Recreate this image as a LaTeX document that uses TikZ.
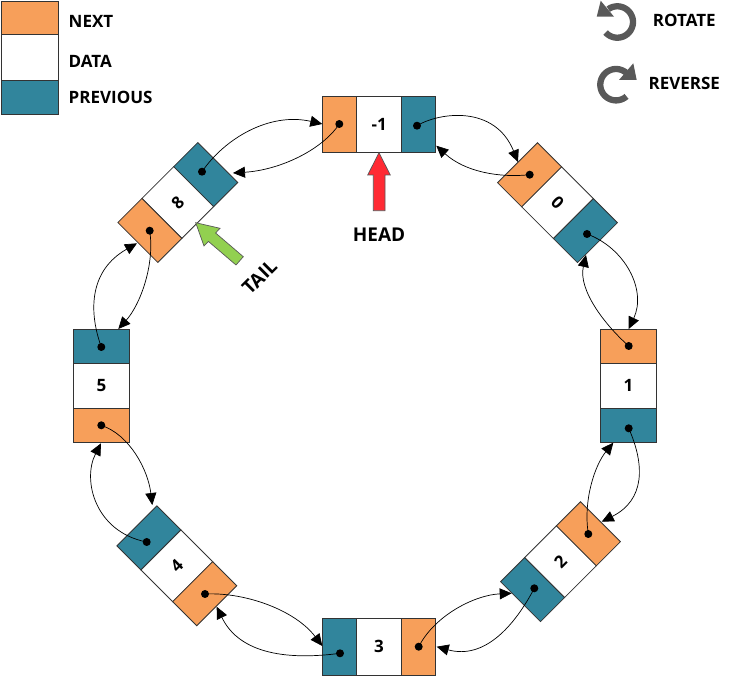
\documentclass[tikz,border=0pt]{standalone}
\usepackage{fontspec}
\setmainfont{Open Sans}
\usetikzlibrary{arrows.meta}
\definecolor{nextc}{HTML}{F79F5A}
\definecolor{prevc}{HTML}{31859C}
\definecolor{iconc}{HTML}{595959}
\definecolor{headc}{HTML}{FF2A33}
\definecolor{tailc}{HTML}{92D050}
\tikzset{
 seg/.style={draw=black!80,line width=0.8pt,inner sep=0pt,outer sep=0pt,minimum height=56.5pt},
 endseg/.style={seg,minimum width=34pt},
 dataseg/.style={seg,fill=white,minimum width=45pt},
 lbl/.style={font=\fontsize{17}{19}\selectfont\bfseries,inner sep=0pt},
 biglbl/.style={font=\fontsize{19}{21}\selectfont\bfseries,inner sep=0pt},
 dotn/.style={circle,fill=black,inner sep=0pt,minimum size=8pt},
 conn/.style={line width=0.7pt,-{Triangle[length=12pt,width=11pt]}},
 legendbox/.style={draw=black!80,line width=0.8pt,inner sep=0pt,minimum width=56.5pt},
 icon/.style={draw=iconc,line width=6.3pt},
 icontip/.style={fill=iconc},
 bigarrow/.style={draw=black!65,line width=0.7pt}
}
\newcommand{\listnode}[6]{% name, x, y, axis angle (screen cw), text, text rotation
 \pgfmathsetmacro{\ox}{39.5*cos(#4)}
 \pgfmathsetmacro{\oy}{39.5*sin(#4)}
 \pgfmathsetmacro{\rot}{-#4}
 \node[dataseg,rotate=\rot] (#1-d) at (#2,#3) {};
 \node[endseg,fill=nextc,rotate=\rot] (#1-l) at ({#2-\ox},{#3-\oy}) {};
 \node[endseg,fill=prevc,rotate=\rot] (#1-r) at ({#2+\ox},{#3+\oy}) {};
 \node[lbl,rotate=#6] (#1-t) at (#2,#3) {#5};
}
\begin{document}
\begin{tikzpicture}[x=1pt,y=-1pt]
\useasboundingbox (0,0) rectangle (732,676);
% legend
\node[legendbox,fill=nextc,minimum height=33.5pt] (lgn) at (29.75,17.75) {};
\node[legendbox,fill=white,minimum height=45.5pt] (lgd) at (29.75,57.25) {};
\node[legendbox,fill=prevc,minimum height=34pt] (lgp) at (29.75,97) {};
\node[lbl,anchor=west] (tn) at (68.5,21.5) {NEXT};
\node[lbl,anchor=west] (td) at (68.5,61.5) {DATA};
\node[lbl,anchor=west] (tp) at (68.5,97.5) {PREVIOUS};
% icons
\draw[icon] plot[domain=125:-138,samples=50] ({617.3+15.7*cos(\x)},{22-15.7*sin(\x)});
\fill[icontip] (600.7,0.7) -- (596.7,16.7) -- (614,16.7) -- cycle;
\draw[icon] plot[domain=50:312,samples=50] ({616+15.7*cos(\x)},{84.7-15.7*sin(\x)});
\fill[icontip] (633.3,63.3) -- (619,80) -- (636.7,80) -- cycle;
\node[lbl] (trot) at (684.3,20.7) {ROTATE};
\node[lbl] (trev) at (684.3,83.5) {REVERSE};
% list nodes
\listnode{m}{379.2}{124.2}{0}{-1}{0}
\listnode{a}{557.5}{202.7}{45}{0}{-45}
\listnode{b}{628.5}{385.8}{90}{1}{0}
\listnode{c}{560.5}{561.7}{135}{2}{45}
\listnode{e}{379}{646.7}{180}{3}{0}
\listnode{f}{176.8}{565.8}{225}{4}{45}
\listnode{g}{101.5}{385.8}{270}{5}{0}
\listnode{h}{177.8}{202.5}{315}{8}{45}
% dots
\node[dotn] (dmo) at (339.3,124) {};
\node[dotn] (dmt) at (417,125.7) {};
\node[dotn] (dao) at (529.7,174.7) {};
\node[dotn] (dat) at (587,234) {};
\node[dotn] (dbo) at (628.7,346) {};
\node[dotn] (dbt) at (628.7,428.3) {};
\node[dotn] (dco) at (588.3,534) {};
\node[dotn] (dct) at (534.3,588.3) {};
\node[dotn] (deo) at (418.7,646.7) {};
\node[dotn] (det) at (340,653.3) {};
\node[dotn] (dfo) at (205,594) {};
\node[dotn] (dft) at (146.7,542) {};
\node[dotn] (dgo) at (101.3,425.3) {};
\node[dotn] (dgt) at (101.3,347) {};
\node[dotn] (dho) at (149.7,230.7) {};
\node[dotn] (dht) at (202,171.7) {};
% connector free ends
\coordinate (t1) at (322.3,124);
\coordinate (t2) at (233,173);
\coordinate (t3) at (518,162);
\coordinate (t4) at (436.3,145.7);
\coordinate (t5) at (628.7,329);
\coordinate (t6) at (586,255);
\coordinate (t7) at (601.7,521.7);
\coordinate (t8) at (613.3,442.7);
\coordinate (t9) at (436.7,646.7);
\coordinate (t10) at (511.7,593.3);
\coordinate (t11) at (216.7,606.7);
\coordinate (t12) at (322.3,646);
\coordinate (t13) at (101,443.3);
\coordinate (t14) at (152.3,505);
\coordinate (t15) at (137,243.3);
\coordinate (t16) at (118.3,329);
% connectors
\draw[conn] (dht.center) .. controls (225,138) and (270,112) .. (t1);
\draw[conn] (dmo.center) .. controls (322,150) and (280,170) .. (t2);
\draw[conn] (dmt.center) .. controls (440,112) and (495,105) .. (t3);
\draw[conn] (dao.center) .. controls (500,178) and (465,172) .. (t4);
\draw[conn] (dat.center) .. controls (625,248) and (647,290) .. (t5);
\draw[conn] (dbo.center) .. controls (605,325) and (578,290) .. (t6);
\draw[conn] (dbt.center) .. controls (645,465) and (645,500) .. (t7);
\draw[conn] (dco.center) .. controls (583,500) and (595,465) .. (t8);
\draw[conn] (dct.center) .. controls (515,625) and (485,660) .. (t9);
\draw[conn] (deo.center) .. controls (435,615) and (475,595) .. (t10);
\draw[conn] (det.center) .. controls (290,660) and (240,655) .. (t11);
\draw[conn] (dfo.center) .. controls (245,592) and (295,610) .. (t12);
\draw[conn] (dft.center) .. controls (95,532) and (82,480) .. (t13);
\draw[conn] (dgo.center) .. controls (130,435) and (148,470) .. (t14);
\draw[conn] (dgt.center) .. controls (88,310) and (90,270) .. (t15);
\draw[conn] (dho.center) .. controls (155,265) and (140,305) .. (t16);
% head and tail arrows
\draw[bigarrow,fill=headc] (379,152.7) -- (390.3,175) -- (385,175) -- (385,210.7) -- (373.3,210.7) -- (373.3,175) -- (367.7,175) -- cycle;
\node[biglbl] (thead) at (379,235) {HEAD};
\draw[bigarrow,fill=tailc] (195.7,222.7) -- (220,228.3) -- (215.6,233) -- (243.3,256.7) -- (236,265) -- (208.4,241.4) -- (204,246) -- cycle;
\node[biglbl,rotate=45] (ttail) at (259.5,277) {TAIL};
\end{tikzpicture}
\end{document}
